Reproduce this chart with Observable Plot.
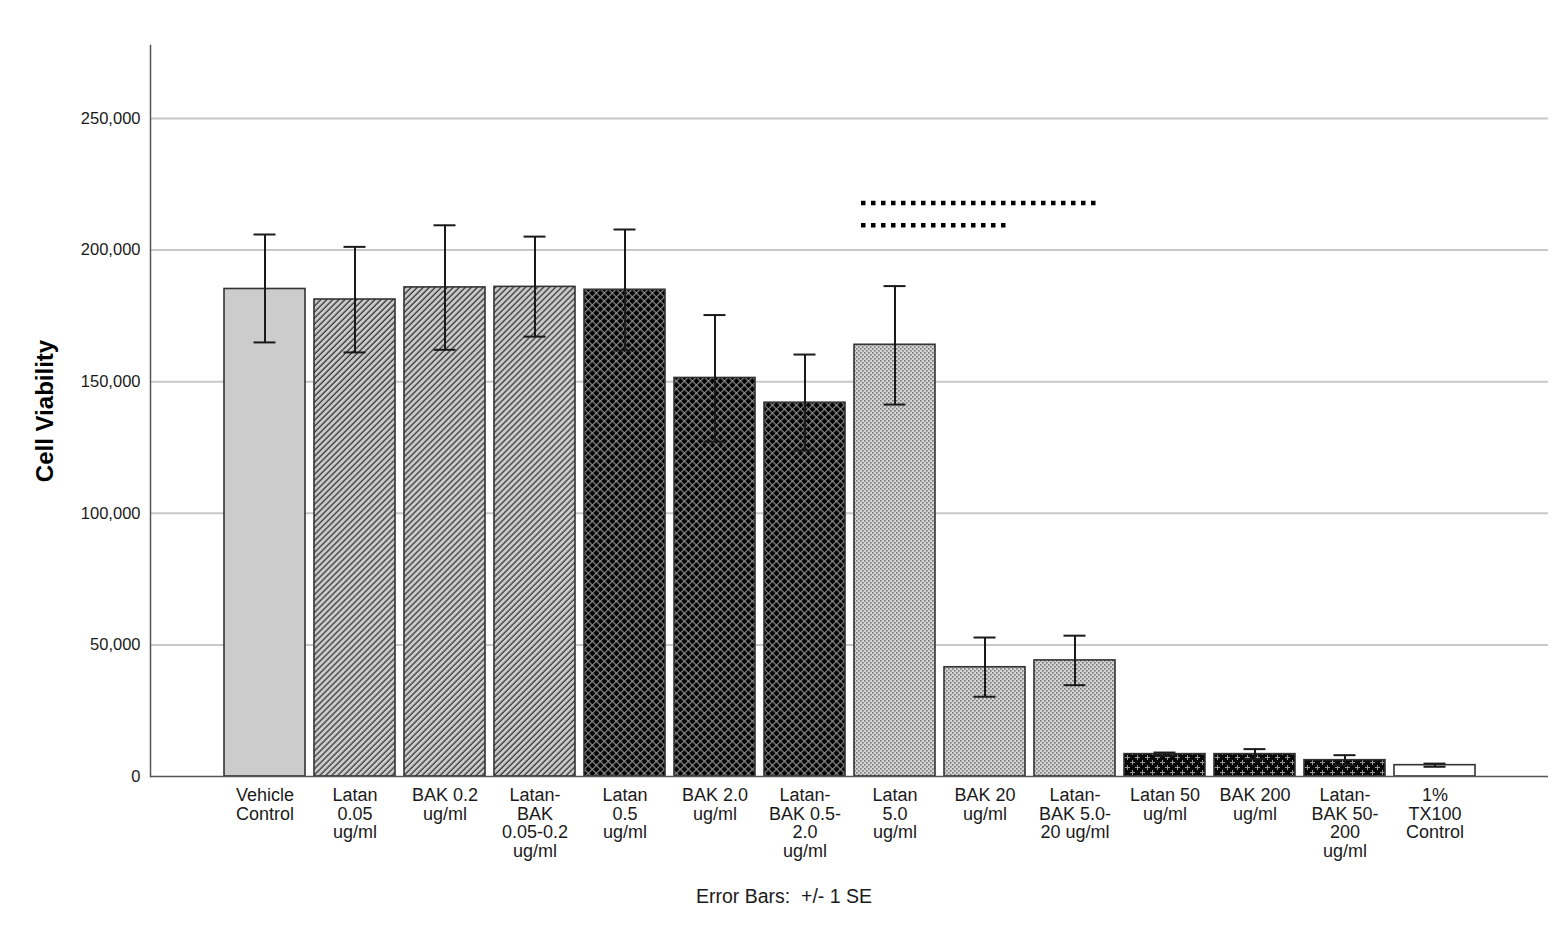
<!DOCTYPE html>
<html><head><meta charset="utf-8">
<script src="https://cdn.jsdelivr.net/npm/d3@7"></script>
<script src="https://cdn.jsdelivr.net/npm/@observablehq/plot@0.6"></script>
<style>
body{margin:0;background:#fff;font-family:Arial,"Liberation Sans",sans-serif;}
#caption{width:1568px;text-align:center;font-size:19.5px;line-height:22px;color:#1a1a1a;margin-top:5px;white-space:pre;font-family:Arial,"Liberation Sans",sans-serif;}
</style></head><body>
<div id="chart"></div>
<div id="caption">Error Bars:  +/- 1 SE</div>
<script>
// ---- data ----
const categories = ["Vehicle Control","Latan 0.05","BAK 0.2","Latan-BAK 0.05-0.2","Latan 0.5","BAK 2.0","Latan-BAK 0.5-2.0","Latan 5.0","BAK 20","Latan-BAK 5.0-20","Latan 50","BAK 200","Latan-BAK 50-200","1% TX100 Control"];
const tickLabels = ["Vehicle\nControl","Latan\n0.05\nug/ml","BAK 0.2\nug/ml","Latan-\nBAK\n0.05-0.2\nug/ml","Latan\n0.5\nug/ml","BAK 2.0\nug/ml","Latan-\nBAK 0.5-\n2.0\nug/ml","Latan\n5.0\nug/ml","BAK 20\nug/ml","Latan-\nBAK 5.0-\n20 ug/ml","Latan 50\nug/ml","BAK 200\nug/ml","Latan-\nBAK 50-\n200\nug/ml","1%\nTX100\nControl"];
const doseLevel = ["vehicle","low","low","low","mid","mid","mid","high","high","high","max","max","max","lysis"];
const means = [185200, 181200, 185800, 186000, 184900, 151400, 142000, 164000, 41500, 44100, 8500, 8500, 6200, 4300];
const seHigh = [205900, 201200, 209400, 205100, 207800, 175300, 160300, 186300, 52800, 53500, 9100, 10400, 8100, 4900];
const seLow  = [164900, 161100, 162100, 167100, 161900, 127200, 123900, 141300, 30300, 34700, 7900, 6600, 4300, 3700];
const yTicks = [0, 50000, 100000, 150000, 200000, 250000];
const yMax = 277700;
// significance brackets (dotted lines)
const sigFrom = ["Latan 5.0", "Latan 5.0"];
const sigTo = ["Latan-BAK 5.0-20", "BAK 20"];
const sigY = [217900, 209400];

// ---- styles ----
const fillFor = {vehicle: "#cccccc", low: "url(#hatch)", mid: "url(#cross)", high: "url(#dots)", max: "url(#plus)", lysis: "#ffffff"};

const data = categories.map((c, i) => ({cat: c, mean: means[i], hi: seHigh[i], lo: seLow[i], fill: fillFor[doseLevel[i]]}));
const sig = sigY.map((y, i) => ({from: sigFrom[i], to: sigTo[i], y}));

// shorten the dotted lines so they stop short of the last bar's right edge
const trimEnd = (index, scales, values, dims, context, next) => {
  const g = next(index, scales, values, dims, context);
  d3.select(g).selectAll("line").attr("x2", function() { return +this.getAttribute("x2") - 25; });
  return g;
};

const plot = Plot.plot({
  width: 1568,
  height: 880,
  marginLeft: 150,
  marginRight: 20,
  marginTop: 45,
  marginBottom: 104,
  style: {fontFamily: "Arial, 'Liberation Sans', sans-serif", color: "#1a1a1a", background: "#fff"},
  x: {domain: categories, insetLeft: 69, insetRight: 69, paddingInner: 0.1, paddingOuter: 0.05, label: null},
  y: {domain: [0, yMax], label: null},
  color: {type: "identity"},
  marks: [
    Plot.gridY(yTicks.slice(1), {stroke: "#c8c8c8", strokeOpacity: 1, strokeWidth: 2}),
    Plot.barY(data, {x: "cat", y: "mean", fill: "fill", stroke: "#333", strokeWidth: 1.6}),
    Plot.ruleX(data, {x: "cat", y1: "lo", y2: "hi", stroke: "#1a1a1a", strokeWidth: 2}),
    Plot.tickY(data, {x: "cat", y: "hi", stroke: "#1a1a1a", strokeWidth: 2, insetLeft: 29.5, insetRight: 29.5}),
    Plot.tickY(data, {x: "cat", y: "lo", stroke: "#1a1a1a", strokeWidth: 2, insetLeft: 29.5, insetRight: 29.5}),
    Plot.ruleY(sig, {x1: "from", x2: "to", y: "y", stroke: "#000", strokeWidth: 4.5, strokeDasharray: "4.5,5.5", dx: 7, render: trimEnd}),
    Plot.frame({anchor: "left", stroke: "#555", strokeWidth: 1.5}),
    Plot.ruleY([0], {stroke: "#555", strokeWidth: 1.5}),
    Plot.axisY({ticks: yTicks, tickFormat: d3.format(","), tickSize: 0, tickPadding: 10, fontSize: 16.5, label: null}),
    Plot.axisX({tickSize: 0, tickPadding: 11.5, fontSize: 18, lineHeight: 1.03, tickFormat: d => tickLabels[categories.indexOf(d)], label: null}),
    Plot.text(["Cell Viability"], {frameAnchor: "left", rotate: -90, dx: -105, textAnchor: "middle", lineAnchor: "middle", fontSize: 24, fontWeight: "bold", fill: "#000"})
  ]
});

const defs = d3.select(plot).insert("defs", ":first-child");
// diagonal hatch
const hw = 4.25;
const h = defs.append("pattern").attr("id", "hatch").attr("patternUnits", "userSpaceOnUse").attr("width", hw).attr("height", hw).attr("patternTransform", "rotate(45)");
h.append("rect").attr("width", hw).attr("height", hw).attr("fill", "#cbcbcb");
h.append("line").attr("x1", 1).attr("x2", 1).attr("y1", 0).attr("y2", hw).attr("stroke", "#2a2a2a").attr("stroke-width", 1.2);
// dark crosshatch
const cw = 5.66;
const c = defs.append("pattern").attr("id", "cross").attr("patternUnits", "userSpaceOnUse").attr("width", cw).attr("height", cw).attr("patternTransform", "rotate(45)");
c.append("rect").attr("width", cw).attr("height", cw).attr("fill", "#030303");
c.append("line").attr("x1", 0.6).attr("x2", 0.6).attr("y1", 0).attr("y2", cw).attr("stroke", "#909090").attr("stroke-width", 1.2);
c.append("line").attr("x1", 0).attr("x2", cw).attr("y1", 0.6).attr("y2", 0.6).attr("stroke", "#909090").attr("stroke-width", 1.2);
// fine dots
const dt = defs.append("pattern").attr("id", "dots").attr("patternUnits", "userSpaceOnUse").attr("width", 4).attr("height", 4);
dt.append("rect").attr("width", 4).attr("height", 4).attr("fill", "#d4d4d4");
dt.append("rect").attr("x", 0).attr("y", 0).attr("width", 1.6).attr("height", 1.6).attr("fill", "#777");
dt.append("rect").attr("x", 2).attr("y", 2).attr("width", 1.6).attr("height", 1.6).attr("fill", "#777");
// plus signs on black
const p = defs.append("pattern").attr("id", "plus").attr("patternUnits", "userSpaceOnUse").attr("width", 10).attr("height", 10);
p.append("rect").attr("width", 10).attr("height", 10).attr("fill", "#080808");
const plusPath = (cx, cy) => `M${cx-2.5},${cy}H${cx+2.5}M${cx},${cy-2.5}V${cy+2.5}`;
p.append("path").attr("d", plusPath(2.5, 2.5) + plusPath(7.5, 7.5)).attr("stroke", "#9a9a9a").attr("stroke-width", 1);

document.getElementById("chart").append(plot);
</script>
</body></html>
